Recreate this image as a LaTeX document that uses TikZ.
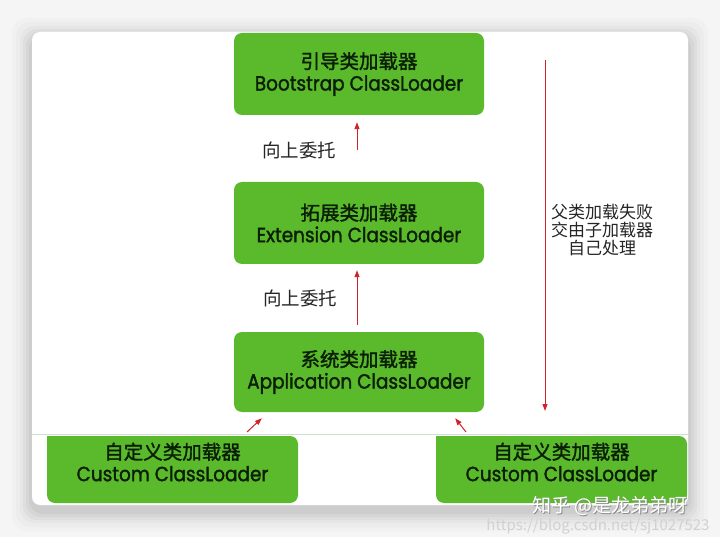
\documentclass[tikz,border=0pt]{standalone}
\usepackage{fontspec}
\setmainfont{Noto Sans CJK SC}
\newfontfamily\cjkb{Noto Sans CJK SC}[FakeBold=1.6]
\newfontfamily\lat{Poppins}[FakeStretch=0.9,FakeBold=1.6]
\usetikzlibrary{arrows.meta}
\definecolor{boxgreen}{HTML}{5BBA2C}
\definecolor{boxtext}{HTML}{0B1F06}
\definecolor{arrred}{HTML}{D2232A}
\definecolor{bggray}{HTML}{F5F5F5}
\tikzset{
  x=1pt, y=-1pt,
  loader/.style={fill=boxgreen, rounded corners=8pt, minimum width=250pt, minimum height=82pt,
    text=boxtext, align=center, inner sep=0pt, font=\fontsize{19.5}{22}\selectfont},
  cbox/.style={text=boxtext, align=center, inner sep=0pt, font=\fontsize{19.5}{22}\selectfont},
  redarrow/.style={draw=arrred, line width=1pt, -{Triangle[length=7pt,width=5pt]}},
  lbl/.style={text=black!85, inner sep=0pt, font=\fontsize{18.5}{20}\selectfont},
  side/.style={text=black!85, inner sep=0pt, align=center, font=\fontsize{17}{18}\selectfont},
}
\newcommand{\latin}[1]{{\lat\fontsize{20.5}{22}\selectfont #1}}
\begin{document}
\begin{tikzpicture}
\useasboundingbox (0,0) rectangle (720,537);
\fill[bggray] (0,0) rectangle (720,537);
% soft shadow of the card
\foreach \d/\o in {20/0.015,16/0.02,12/0.025,9/0.03,6/0.035,3/0.04}{
  \fill[black, opacity=\o, rounded corners=14pt] (32-\d,38-\d) rectangle (688+\d,511+\d);
}
\fill[white, rounded corners=8pt] (32,32) rectangle (688,505);
% faint separation line
\draw[draw=green!25!gray!30, line width=1pt] (32,434) -- (688,434);

% main loaders
\node[loader] (boot) at (359,74) {{\cjkb 引导类加载器}\\\latin{Bootstrap ClassLoader}};
\node[loader] (ext) at (359,223) {{\cjkb 拓展类加载器}\\\latin{Extension ClassLoader}};
\node[loader, minimum height=80pt] (app) at (359,372) {{\cjkb 系统类加载器}\\\latin{Application ClassLoader}};

% custom loaders (boxes cut at top)
\fill[boxgreen, rounded corners=8pt] (47,436) -- (47,503) -- (298,503) -- (298,436) [sharp corners] -- cycle;
\fill[boxgreen, rounded corners=8pt] (436,436) -- (436,503) -- (687,503) -- (687,436) [sharp corners] -- cycle;
\node[cbox] (c1) at (172.5,462) {{\cjkb 自定义类加载器}\\\latin{Custom ClassLoader}};
\node[cbox] (c2) at (561.5,462) {{\cjkb 自定义类加载器}\\\latin{Custom ClassLoader}};
\coordinate (c1ne) at (298,435);
\coordinate (c2nw) at (436,435);

% arrows
\draw[redarrow] ([shift={(-2,-32)}]ext.north) -- ([shift={(-2,7)}]boot.south);
\draw[redarrow] ([shift={(-2,-7)}]app.north) -- ([shift={(-2,6)}]ext.south);
\draw[redarrow] ([shift={(-51,-3)}]c1ne) -- ([shift={(28,6)}]app.south west);
\draw[redarrow] ([shift={(30,-3)}]c2nw) -- ([shift={(-29,6)}]app.south east);
\coordinate (dtop) at (545,60);
\coordinate (dbot) at (545,411);
\draw[redarrow] (dtop) -- (dbot);

% labels
\node[lbl] (up1) at (299,150) {向上委托};
\node[lbl] (up2) at (300,298) {向上委托};
\node[side] (fail) at (602,230) {父类加载失败\\交由子加载器\\自己处理};

% watermark
\node[text=black!45, inner sep=0pt, font=\fontsize{19}{19}\selectfont] (wms) at (611,507) {知乎 @是龙弟弟呀};
\node[text=white, inner sep=0pt, font=\fontsize{19}{19}\selectfont] (wm) at (610,506) {知乎 @是龙弟弟呀};
\node[text=black!18, inner sep=0pt, font=\fontsize{15}{15}\selectfont] (url) at (598,526) {https://blog.csdn.net/sj1027523};
\end{tikzpicture}
\end{document}
